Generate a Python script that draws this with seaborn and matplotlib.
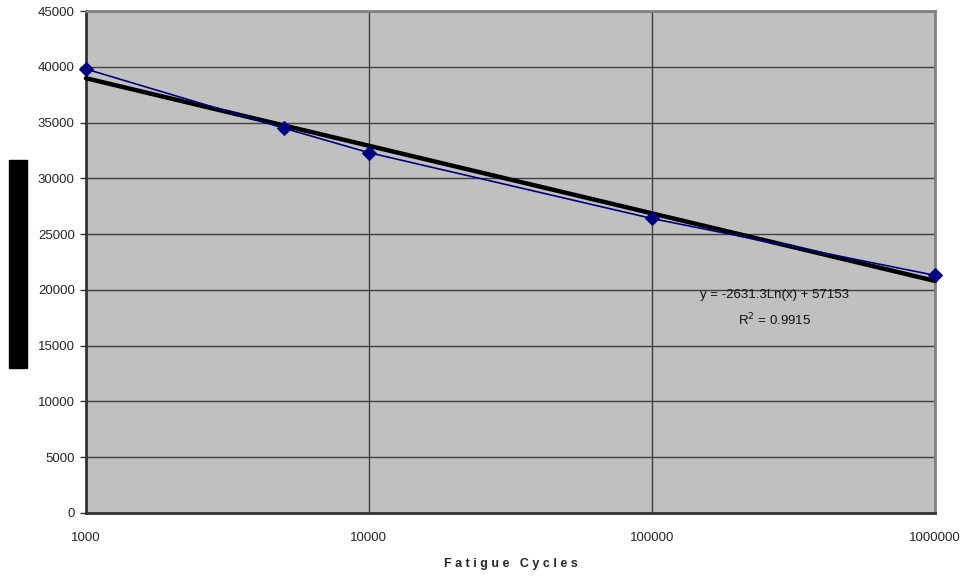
import numpy as np
import pandas as pd
import matplotlib
matplotlib.use("Agg")
import matplotlib.pyplot as plt
import seaborn as sns

cycles = [1000, 5000, 10000, 100000, 1000000]
stress = [39800, 34500, 32300, 26400, 21300]
trend_slope = -2631.3
trend_intercept = 57153
x_ticks = [1000, 10000, 100000, 1000000]
y_ticks = list(range(0, 45001, 5000))

sns.set_theme(style="white")
plt.rcParams['font.family'] = ['Liberation Sans', 'DejaVu Sans']

fig = plt.figure(figsize=(9.65, 5.79), dpi=100)
ax = fig.add_axes([0.089, 0.114, 0.880, 0.867])
ax.set_facecolor("#C0C0C0")

df = pd.DataFrame({"cycles": cycles, "stress": stress})
tx = np.logspace(3, 6, 200)
trend = pd.DataFrame({"cycles": tx, "stress": trend_slope * np.log(tx) + trend_intercept})

sns.lineplot(data=trend, x="cycles", y="stress", ax=ax, color="black", linewidth=3.2, zorder=3)
sns.lineplot(data=df, x="cycles", y="stress", ax=ax, color="#000080", linewidth=1.2,
             marker="D", markersize=7, markeredgecolor="#000080", zorder=4)
for ln in ax.lines:
    ln.set_clip_on(False)

ax.set_xscale("log")
ax.set_xlim(1000, 1000000)
ax.set_ylim(0, 45000)
ax.set_xticks(x_ticks)
ax.set_xticklabels([str(v) for v in x_ticks])
ax.minorticks_off()
ax.set_yticks(y_ticks)
ax.set_yticklabels([str(v) for v in y_ticks])
ax.grid(True, color="#404040", linewidth=1.0)
ax.set_axisbelow(True)
ax.tick_params(axis="y", length=4, width=1, color="#333333", labelsize=9.5, pad=4, left=True)
ax.tick_params(axis="x", length=0, labelsize=9.5, pad=14, bottom=True)

for s in ["top", "right"]:
    ax.spines[s].set_color("#808080")
    ax.spines[s].set_linewidth(2)
for s in ["left", "bottom"]:
    ax.spines[s].set_color("#333333")
    ax.spines[s].set_linewidth(2)

ax.set_xlabel("F a t i g u e   C y c l e s", fontsize=9, fontweight="bold", labelpad=10)
ax.set_ylabel("")
fig.text(0.0187, 0.544, "Maximum Alternating Stress (psi)", rotation=90, fontsize=10, color="black",
         ha="center", va="center",
         bbox=dict(boxstyle="square,pad=0.12", facecolor="black", edgecolor="black"))

ax.text(0.811, 0.434, "y = -2631.3Ln(x) + 57153", transform=ax.transAxes,
        fontsize=9.5, ha="center", va="center", color="#111111")
ax.text(0.811, 0.384, "R$^2$ = 0.9915", transform=ax.transAxes,
        fontsize=9.5, ha="center", va="center", color="#111111")

fig.savefig("out.png", dpi=100, facecolor="white")
